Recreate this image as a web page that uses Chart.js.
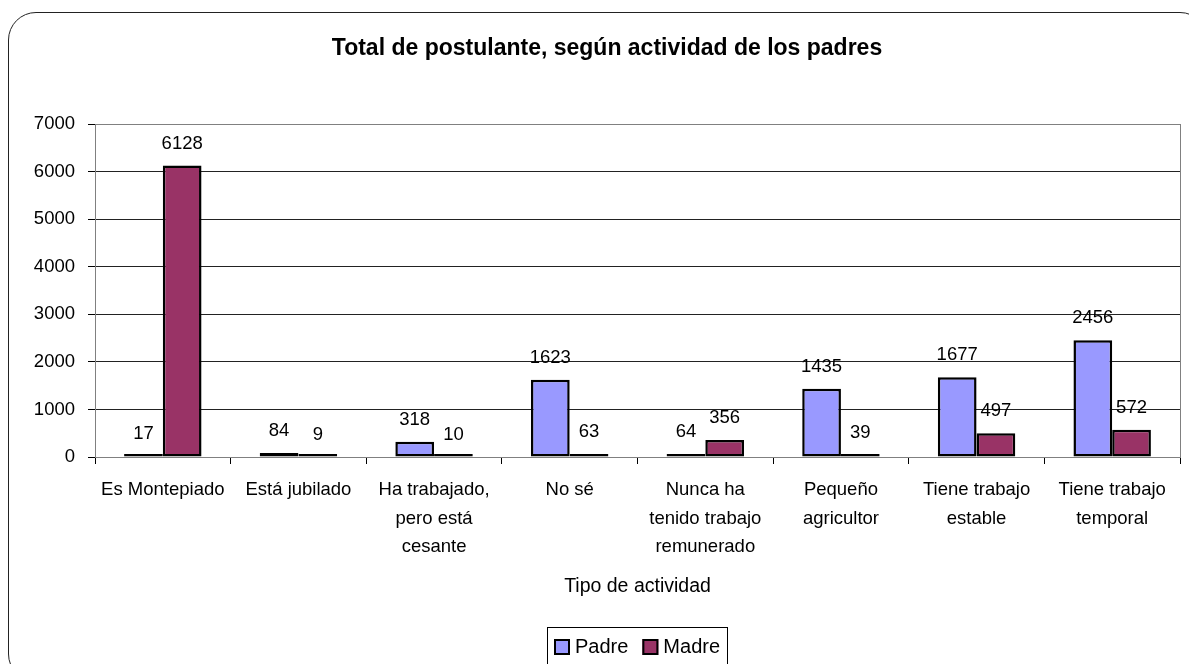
<!DOCTYPE html>
<html lang="es">
<head>
  <meta charset="UTF-8">
  <title>Total de postulante, según actividad de los padres</title>
  <script src="https://cdn.jsdelivr.net/npm/chart.js"></script>
  <style>
    html, body { margin: 0; padding: 0; background: #fff; overflow: hidden; }
    #wrap { position: relative; width: 1189px; height: 664px; }
    #marco { position: absolute; left: 8px; top: 12px; width: 1200px; height: 670px; border: 1.5px solid #222; border-radius: 28px; box-sizing: border-box; pointer-events: none; }
    canvas { position: absolute; left: 0; top: 0; }
  </style>
</head>
<body>
  <div id="wrap">
    <canvas id="grafico" width="1189" height="664"></canvas>
    <div id="marco"></div>
  </div>

  <script>
    // Datos
    const categorias = [
      'Es Montepiado',
      'Está jubilado',
      ['Ha trabajado,', 'pero está', 'cesante'],
      'No sé',
      ['Nunca ha', 'tenido trabajo', 'remunerado'],
      ['Pequeño', 'agricultor'],
      ['Tiene trabajo', 'estable'],
      ['Tiene trabajo', 'temporal']
    ];
    const padre = [17, 84, 318, 1623, 64, 1435, 1677, 2456];
    const madre = [6128, 9, 10, 63, 356, 39, 497, 572];
    const ticksY = [0, 1000, 2000, 3000, 4000, 5000, 6000, 7000];

    const fuente = "'Liberation Sans', Arial, sans-serif";

    // etiquetas de valor sobre cada barra
    const etiquetas = {
      id: 'etiquetas',
      afterDatasetsDraw(chart) {
        const ctx = chart.ctx;
        const base = chart.scales.y.getPixelForValue(0);
        ctx.save();
        ctx.font = '18.5px ' + fuente;
        ctx.fillStyle = '#000';
        ctx.textAlign = 'center';
        ctx.textBaseline = 'middle';
        chart.data.datasets.forEach((ds, i) => {
          chart.getDatasetMeta(i).data.forEach((bar, j) => {
            const y = chart.scales.y.getPixelForValue(ds.data[j]);
            ctx.fillText(String(ds.data[j]), bar.x, Math.min(y, base) - 22);
          });
        });
        ctx.restore();
      }
    };

    // borde gris del área de trazado
    const bordes = {
      id: 'bordes',
      beforeDatasetsDraw(chart) {
        const a = chart.chartArea;
        const ctx = chart.ctx;
        ctx.save();
        ctx.strokeStyle = '#808080';
        ctx.lineWidth = 1;
        ctx.strokeRect(Math.round(a.left) + 0.5, Math.round(a.top) + 0.5, Math.round(a.right - a.left), Math.round(a.bottom - a.top));
        ctx.restore();
      }
    };

    // leyenda con recuadro, bajo el título del eje
    const leyenda = {
      id: 'leyenda',
      afterDraw(chart) {
        const ctx = chart.ctx;
        const a = chart.chartArea;
        const items = chart.data.datasets;
        ctx.save();
        ctx.font = '20px ' + fuente;
        const caja = 16, gapTexto = 5, gapItem = 14, margen = 7;
        let total = margen * 2;
        items.forEach((ds, i) => {
          total += caja + gapTexto + ctx.measureText(ds.label).width + (i < items.length - 1 ? gapItem : 0);
        });
        const izq = Math.round((a.left + a.right) / 2 - total / 2);
        const arriba = 627, cy = 647;
        ctx.strokeStyle = '#000';
        ctx.lineWidth = 1;
        ctx.strokeRect(izq + 0.5, arriba + 0.5, Math.round(total), 50);
        let x = izq + margen;
        items.forEach((ds) => {
          ctx.fillStyle = ds.backgroundColor;
          ctx.fillRect(x, cy - caja / 2, caja, caja);
          ctx.lineWidth = 2;
          ctx.strokeStyle = '#000';
          ctx.strokeRect(x + 1, cy - caja / 2 + 1, caja - 2, caja - 2);
          x += caja + gapTexto;
          ctx.fillStyle = '#000';
          ctx.textAlign = 'left';
          ctx.textBaseline = 'middle';
          ctx.fillText(ds.label, x, cy);
          x += ctx.measureText(ds.label).width + gapItem;
        });
        ctx.restore();
      }
    };

    const chart = new Chart(document.getElementById('grafico'), {
      type: 'bar',
      data: {
        labels: categorias,
        datasets: [
          { label: 'Padre', data: padre, backgroundColor: '#9999FF', borderColor: '#000', borderWidth: 2.5, borderSkipped: false, minBarLength: 3 },
          { label: 'Madre', data: madre, backgroundColor: '#993366', borderColor: '#000', borderWidth: 2.5, borderSkipped: false, minBarLength: 3 }
        ]
      },
      options: {
        responsive: false,
        animation: false,
        categoryPercentage: 0.571,
        barPercentage: 1,
        layout: { padding: { left: 34, right: 9, top: 0, bottom: 34 } },
        plugins: {
          title: {
            display: true,
            text: 'Total de postulante, según actividad de los padres',
            color: '#000',
            font: { family: fuente, size: 23, weight: 'bold', lineHeight: 1.2 },
            padding: { top: 35, bottom: 61.4 }
          },
          legend: { display: false },
          tooltip: { enabled: false }
        },
        scales: {
          x: {
            afterFit(axis) { axis.height = 173; },
            grid: { drawOnChartArea: false, drawTicks: true, tickLength: 7, tickColor: '#000' },
            border: { display: true, color: '#808080' },
            ticks: { color: '#000', font: { family: fuente, size: 18.5, lineHeight: 1.54 }, padding: 12, maxRotation: 0, autoSkip: false },
            title: {
              display: true,
              text: 'Tipo de actividad',
              color: '#000',
              font: { family: fuente, size: 19.5, lineHeight: 1.2 },
              padding: { top: 11, bottom: 31.3 }
            }
          },
          y: {
            min: 0,
            max: 7000,
            afterFit(axis) { axis.width = 61; },
            afterBuildTicks(axis) { axis.ticks = ticksY.map(v => ({ value: v })); },
            grid: { color: '#222', tickLength: 7, tickColor: '#000' },
            border: { display: true, color: '#808080' },
            ticks: { color: '#000', font: { family: fuente, size: 18.5 }, padding: 13, callback: v => String(v) }
          }
        }
      },
      plugins: [etiquetas, bordes, leyenda]
    });
  </script>
</body>
</html>
